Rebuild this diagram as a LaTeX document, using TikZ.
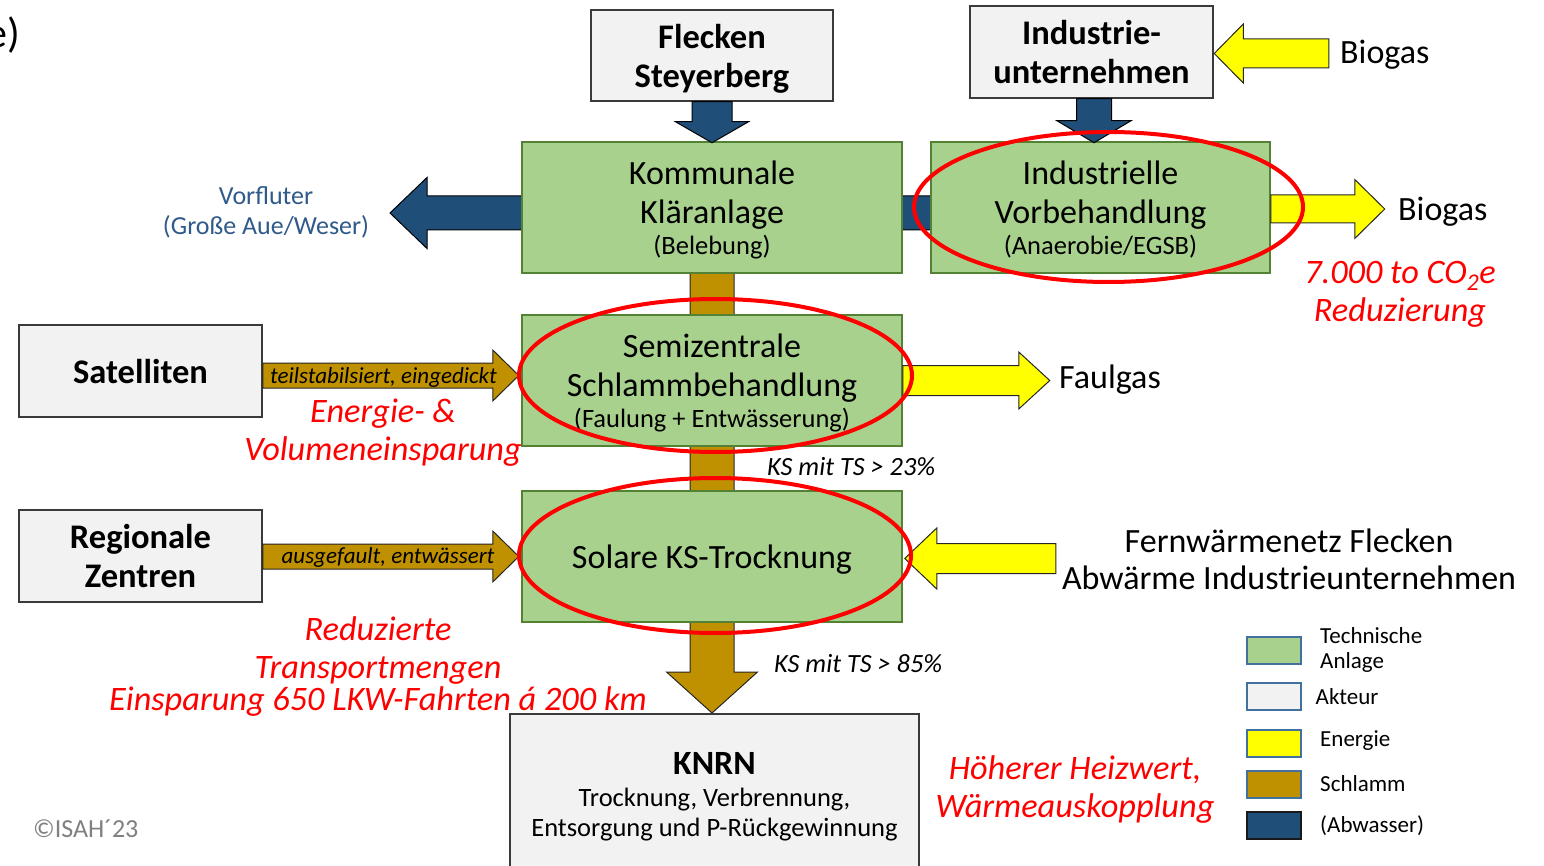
\documentclass[tikz,border=0pt]{standalone}
\usepackage{fontspec}
\setmainfont{Carlito}
\usetikzlibrary{calc}

\definecolor{plantfill}{HTML}{A9D18E}
\definecolor{plantline}{HTML}{548235}
\definecolor{actorfill}{HTML}{F2F2F2}
\definecolor{actorline}{HTML}{3A3A3A}
\definecolor{energy}{HTML}{FFFF00}
\definecolor{sludge}{HTML}{BF9000}
\definecolor{water}{HTML}{1F4E79}
\definecolor{keyline}{HTML}{41719C}
\definecolor{riverblue}{HTML}{2F5A8A}
\definecolor{notered}{HTML}{FF0000}
\definecolor{copygray}{HTML}{808080}

\newcommand\fsz[2]{\fontsize{#1}{#2}\selectfont}
% block arrow: #1 start point, #2 direction (deg), #3 length,
% #4 half shaft width, #5 half head width, #6 head length, #7 style
\newcommand\blockarrow[7]{%
  \draw[#7, shift={#1}, rotate=#2]
    (0,#4) -- ({#3-#6},#4) -- ({#3-#6},#5) -- (#3,0)
    -- ({#3-#6},-#5) -- ({#3-#6},-#4) -- (0,-#4) -- cycle;}

\tikzset{
  actor/.style={draw=actorline, fill=actorfill, line width=1.5, inner sep=0,
    align=center, text depth=0pt, font=\bfseries\fsz{34.5}{39}},
  plant/.style={draw=plantline, fill=plantfill, line width=1.5, inner sep=0,
    align=center, text depth=0pt, font=\fsz{34}{39}},
  flowwater/.style={fill=water, draw=black, line width=1},
  flowenergy/.style={fill=energy, draw=black!85, line width=1},
  flowsludge/.style={fill=sludge, draw=black!85, line width=1},
  ring/.style={draw=notered, line width=4},
  remark/.style={text=notered, font=\itshape\fsz{34.3}{38}, align=center, inner sep=0},
  plaintext/.style={font=\fsz{34}{37}, inner sep=0, align=center},
  flowtext/.style={font=\itshape\fsz{23}{26}, inner sep=0},
  tstext/.style={font=\itshape\fsz{26.3}{30}, inner sep=0, anchor=west},
  keybox/.style={draw=keyline, line width=2, minimum width=54, minimum height=27, inner sep=0},
  keytext/.style={font=\fsz{23}{25}, anchor=west, inner sep=0, align=left},
}

\begin{document}
\begin{tikzpicture}[x=1pt, y=-1pt]
\clip (0,0) rectangle (1544,866);
\fill[white] (0,0) rectangle (1544,866);

% stations and actors (coordinates: pixels, y downwards)
\node[actor, minimum width=242, minimum height=91] (fs) at (712,55.5) {Flecken\\Steyerberg};
\node[actor, minimum width=243, minimum height=92] (iu) at (1091.5,52) {Industrie-\\unternehmen};
\node[actor, minimum width=243, minimum height=92] (sat) at (140.5,371) {Satelliten};
\node[actor, minimum width=243, minimum height=92] (reg) at (140.5,556) {Regionale\\Zentren};

% long flows running behind the boxes
\coordinate (kkaC) at (712,207.5);
\coordinate (ivbC) at (1100.5,207.5);
\blockarrow{($(ivbC)+(0,5.5)$)}{180}{710.5}{17}{35.5}{37}{flowwater}
\blockarrow{(kkaC)}{-90}{505.5}{22}{45.5}{41}{flowsludge}

\node[plant, minimum width=380, minimum height=131] (kka) at (kkaC)
  {Kommunale\\Kläranlage\\[-8pt]{\fsz{26.5}{30}(Belebung)}};
\node[plant, minimum width=339, minimum height=131] (ivb) at (ivbC)
  {Industrielle\\Vorbehandlung\\[-8pt]{\fsz{26.5}{30}(Anaerobie/EGSB)}};
\node[plant, minimum width=380, minimum height=131] (semi) at (712,380.5)
  {Semizentrale\\Schlammbehandlung\\[-8pt]{\fsz{26.5}{30}(Faulung + Entwässerung)}};
\node[plant, minimum width=380, minimum height=131] (sol) at (712,556.5)
  {Solare KS-Trocknung};
\node[draw=actorline, fill=actorfill, line width=1.5, inner sep=0, align=center,
  minimum width=409, minimum height=166, font=\fsz{26.5}{30}] (knrn) at (714.5,797)
  {{\bfseries\fsz{34}{39}KNRN}\\[2pt]Trocknung, Verbrennung,\\Entsorgung und P-Rückgewinnung};

% short flows
\blockarrow{(fs.south)}{-90}{41}{20}{36.5}{21}{flowwater}
\blockarrow{($(iu.south)+(2.5,0)$)}{-90}{44}{17.5}{37}{22}{flowwater}
\blockarrow{($(iu.east)+(115,1.5)$)}{180}{114.5}{14.5}{29.5}{29}{flowenergy}
\blockarrow{($(ivb.east)+(0,1.5)$)}{0}{114}{14}{29.5}{30}{flowenergy}
\blockarrow{(semi.east)}{0}{147}{15}{28.5}{31}{flowenergy}
\blockarrow{($(sol.east)+(153,2)$)}{180}{151}{15}{30.5}{32}{flowenergy}
\blockarrow{($(sat.east)+(0,4.5)$)}{0}{256}{12.5}{25.5}{26}{flowsludge}
\blockarrow{($(reg.east)+(0,0.5)$)}{0}{256}{12.5}{25.5}{26}{flowsludge}

% flow labels
\node[flowtext] (lsat) at (383.5,377) {teilstabilsiert, eingedickt};
\node[flowtext] (lreg) at (388,557) {ausgefault, entwässert};
\node[tstext] (ts1) at (767,467) {KS mit TS > 23\%};
\node[tstext] (ts2) at (774,664) {KS mit TS > 85\%};

% sources and sinks
\node[plaintext, anchor=west] (bg1) at (1340,55) {Biogas};
\node[plaintext, anchor=west] (bg2) at (1398,212) {Biogas};
\node[plaintext, anchor=west] (fg) at (1059,380) {Faulgas};
\node[plaintext] (fw) at (1289,559.5) {Fernwärmenetz Flecken\\Abwärme Industrieunternehmen};
\node[plaintext, text=riverblue, font=\fsz{26}{30}] (vf) at (266,212)
  {Vorfluter\\(Große Aue/Weser)};

% highlighted stations
\draw[ring] (1108.5,207) ellipse [x radius=194.5, y radius=75];
\draw[ring] (715.5,375.5) ellipse [x radius=196.5, y radius=76.5];
\draw[ring] (715,555.5) ellipse [x radius=196, y radius=77.5];

% effects
\node[remark] (r1) at (1400,294.5) {7.000 to CO\textsubscript{2}e\\Reduzierung};
\node[remark] (r2) at (383,433) {Energie- \&\\Volumeneinsparung};
\node[remark] (r3) at (378,667)
  {Reduzierte\\Transportmengen\\[-6pt]Einsparung 650 LKW-Fahrten á 200 km};
\node[remark] (r4) at (1075,789.5) {Höherer Heizwert,\\Wärmeauskopplung};

% legend
\node[keybox, fill=plantfill] (k1) at (1274,650) {};
\node[keybox, fill=actorfill] (k2) at (1274,696.5) {};
\node[keybox, fill=energy] (k3) at (1274,743) {};
\node[keybox, fill=sludge] (k4) at (1274,784.5) {};
\node[keybox, fill=water, draw=black!90] (k5) at (1274,825.5) {};
\node[keytext] (t1) at (1320,649.5) {Technische\\Anlage};
\node[keytext] (t2) at (1315.5,697) {Akteur};
\node[keytext] (t3) at (1320,741) {Energie};
\node[keytext] (t4) at (1320,784) {Schlamm};
\node[keytext] (t5) at (1320,826) {(Abwasser)};

% panel mark and copyright
\node[font=\fsz{42}{50}, anchor=east, inner sep=0] (pm) at (20,35) {e)};
\node[font=\fsz{26}{30}, text=copygray, anchor=west, inner sep=0] (cr) at (33,829) {©ISAH´23};
\end{tikzpicture}
\end{document}
